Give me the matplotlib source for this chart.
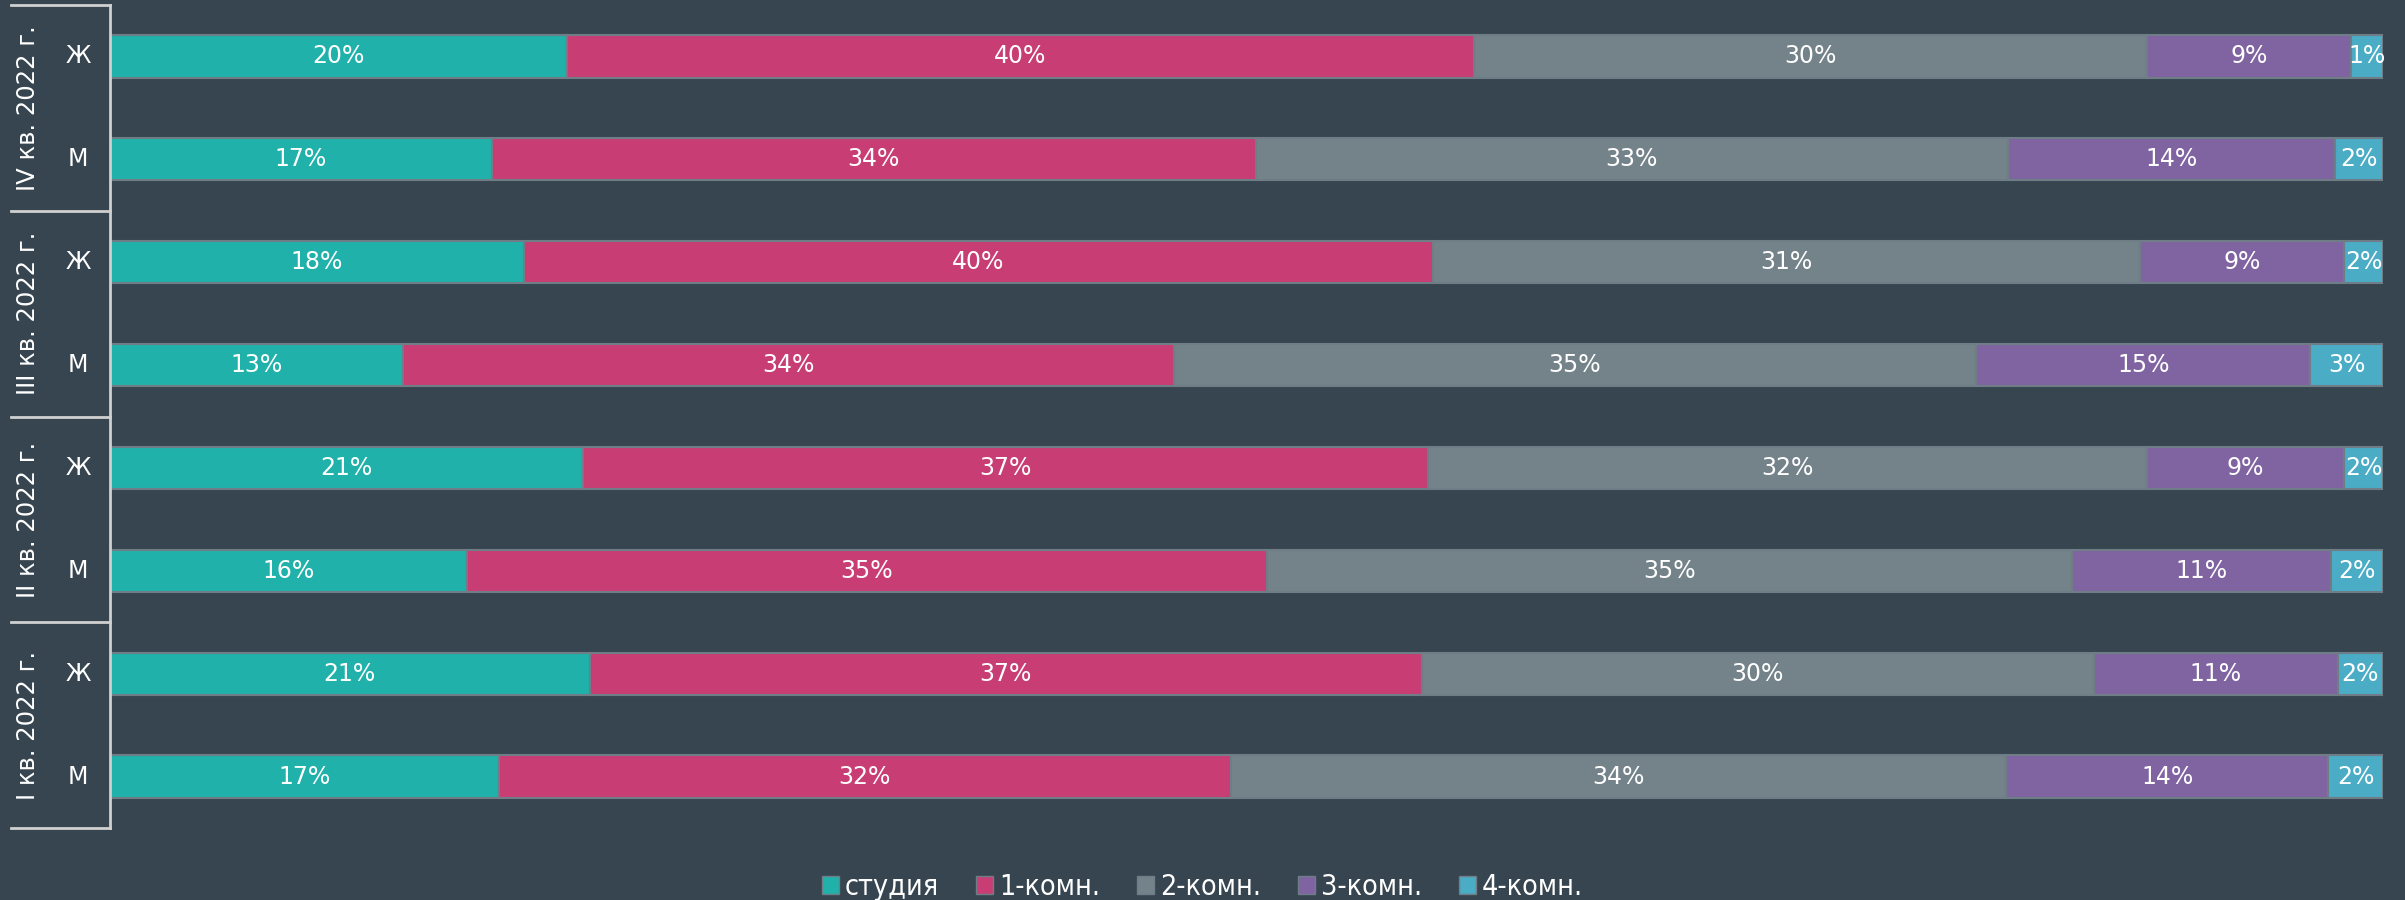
import matplotlib
matplotlib.use("Agg")
import matplotlib.pyplot as plt
from matplotlib.transforms import blended_transform_factory
from matplotlib.patches import Patch
from matplotlib.font_manager import FontProperties

# ---- data (rows from bottom to top) ----
groups = ['I кв. 2022 г.', 'II кв. 2022 г.', 'III кв. 2022 г.', 'IV кв. 2022 г.']
sexes = ['М', 'Ж']
categories = ['студия', '1-комн.', '2-комн.', '3-комн.', '4-комн.']
studio = [17.1, 21.1, 15.7, 20.8, 12.9, 18.2, 16.8, 20.1]
k1 = [32.2, 36.6, 35.2, 37.2, 33.9, 40.0, 33.6, 39.9]
k2 = [34.1, 29.6, 35.4, 31.6, 35.3, 31.1, 33.1, 29.6]
k3 = [14.2, 10.7, 11.4, 8.7, 14.7, 9.0, 14.4, 9.0]
k4 = [2.4, 2.0, 2.3, 1.7, 3.2, 1.7, 2.1, 1.4]
series = [studio, k1, k2, k3, k4]
colors = ['#20B2AA', '#C83E74', '#74828A', '#8064A2', '#4BACC6']

BG = '#36454F'
fig = plt.figure(figsize=(24.05, 9), dpi=100, facecolor=BG)
ax = fig.add_axes([110/2405, 1-828/900, (2383-110)/2405, (828-5)/900])
ax.set_facecolor(BG)

n = len(studio)
ypos = list(range(n))
left = [0.0]*n
for vals, col in zip(series, colors):
    ax.barh(ypos, vals, left=left, height=0.41, color=col,
            edgecolor='#6E7D86', linewidth=1.5)
    for y, v, l in zip(ypos, vals, left):
        ax.text(l + v/2, y, f"{round(v)}%", ha='center', va='center',
                color='white', fontsize=17)
    left = [a + b for a, b in zip(left, vals)]

ax.set_xlim(0, 100)
ax.set_ylim(-0.5, n - 0.5)
ax.set_xticks([])
ax.set_yticks([])
for s in ['top', 'right', 'bottom']:
    ax.spines[s].set_visible(False)
ax.spines['left'].set_color('#D0D0D0')
ax.spines['left'].set_linewidth(2)

tr = blended_transform_factory(ax.transAxes, ax.transData)
for i in range(n):
    ax.text(-0.0141, i, sexes[i % 2], ha='center', va='center', color='white',
            fontsize=17, transform=tr, clip_on=False)
for g, name in enumerate(groups):
    yc = 2*g + 0.5
    ax.text(-0.0361, yc, name, ha='center', va='center', rotation=90,
            color='white', fontsize=17.5, transform=tr, clip_on=False)
for b in range(len(groups) + 1):
    yb = 2*b - 0.5
    ax.plot([-0.0436, 0], [yb, yb], color='#D0D0D0', lw=2, transform=tr,
            clip_on=False)

handles = [Patch(facecolor=c, edgecolor='#6E7D86', label=l) for c, l in zip(colors, categories)]
fp = FontProperties(family='DejaVu Sans', stretch='condensed', size=20.5)
leg = fig.legend(handles=handles, loc='lower center', bbox_to_anchor=(0.5, -0.03),
                 ncol=5, frameon=False, prop=fp, handlelength=0.6,
                 handleheight=0.6, handletextpad=0.2, columnspacing=1.3)
for t in leg.get_texts():
    t.set_color('white')

fig.savefig('out.png', dpi=100, facecolor=BG)
